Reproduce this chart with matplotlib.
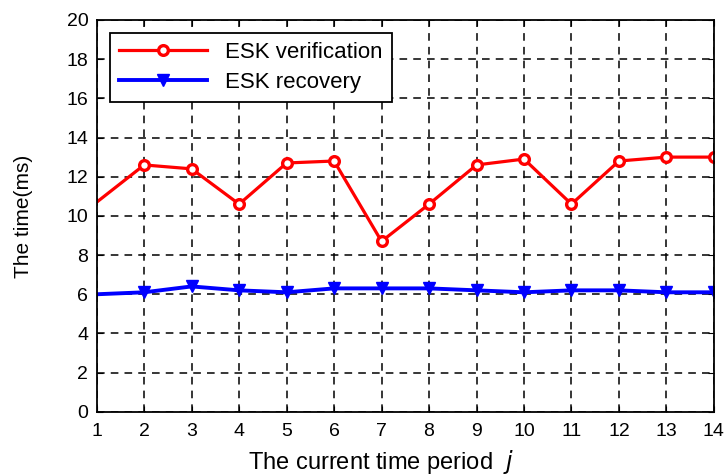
import numpy as np
import matplotlib
matplotlib.use('Agg')
import matplotlib.pyplot as plt

plt.rcParams['font.family'] = ['Liberation Sans', 'DejaVu Sans']

periods = list(range(1, 15))
esk_verification = [10.7, 12.6, 12.4, 10.6, 12.7, 12.8, 8.7, 10.6, 12.6, 12.9, 10.6, 12.8, 13.0, 13.0]
esk_recovery = [6.0, 6.1, 6.4, 6.2, 6.1, 6.3, 6.3, 6.3, 6.2, 6.1, 6.2, 6.2, 6.1, 6.1]

fig = plt.figure(figsize=(7.27, 4.75), dpi=100)
ax = fig.add_axes([0.133, 0.133, 0.849, 0.825])

ax.plot(periods, esk_verification, color='red', lw=2.3, marker='o', ms=7,
        mfc='white', mec='red', mew=2.4, markevery=range(1, 14), label='ESK verification')
ax.plot(periods, esk_recovery, color='blue', lw=2.8, marker='v', ms=8,
        mfc='blue', mec='blue', markevery=range(1, 14), label='ESK recovery')

ax.set_xlim(1, 14)
ax.set_ylim(0, 20)
ax.set_xticks(periods)
ax.set_yticks(np.arange(0, 21, 2))
ax.tick_params(direction='in', top=True, right=True, labelsize=14, length=4)
ax.tick_params(axis='x', pad=8)
ax.tick_params(axis='y', pad=6)
ax.grid(True, color='black', linestyle=(0, (5, 4)), linewidth=1.1)
for s in ax.spines.values():
    s.set_linewidth(1.3)

ax.set_xlabel('The current time period  $j$', fontsize=17, labelpad=6, x=0.46)
ax.set_ylabel('The time(ms)', fontsize=15, labelpad=24)

leg = ax.legend(loc='upper left', fontsize=16, fancybox=False, framealpha=1,
                edgecolor='black', handlelength=4.0, bbox_to_anchor=(0.021, 0.967),
                borderpad=0.4, labelspacing=0.4, handletextpad=0.8, borderaxespad=0)
leg.get_frame().set_linewidth(1.3)

fig.savefig('out.png', dpi=100)
